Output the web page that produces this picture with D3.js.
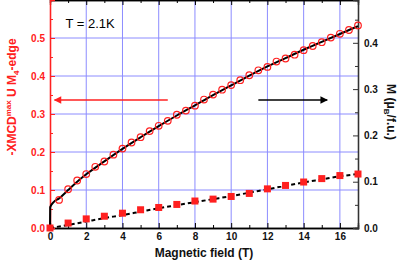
<!DOCTYPE html>
<html>
<head>
<meta charset="utf-8">
<script src="https://cdn.jsdelivr.net/npm/d3@7"></script>
<style>
  body { margin: 0; background: #fff; }
  svg { font-family: "Liberation Sans", Arial, sans-serif; }
  .tick text { font-weight: bold; font-size: 10px; }
</style>
</head>
<body>
<svg width="399" height="264"></svg>
<script>
const svg = d3.select("svg");

// open circles (XMCD, left axis)
const circleField = [0.5, 1, 1.5, 2, 2.5, 3, 3.5, 4, 4.5, 5, 5.5, 6, 6.5, 7, 7.5, 8, 8.5,
  9, 9.5, 10, 10.5, 11, 11.5, 12, 12.5, 13, 13.5, 14, 14.5, 15, 15.5, 16, 16.5, 17];
const circleValues = [0.074, 0.102, 0.125, 0.142, 0.161, 0.175, 0.193, 0.209, 0.225, 0.239,
  0.255, 0.269, 0.282, 0.298, 0.309, 0.322, 0.338, 0.351, 0.364, 0.376, 0.389, 0.402, 0.415,
  0.424, 0.438, 0.446, 0.456, 0.468, 0.479, 0.489, 0.501, 0.511, 0.521, 0.533];

// filled squares (left axis)
const squareField = [0, 1, 2, 3, 4, 5, 6, 7, 8, 9, 10, 11, 12, 13, 14, 15, 16, 17];
const squareValues = [0, 0.013, 0.024, 0.031, 0.039, 0.048, 0.054, 0.062, 0.071, 0.076,
  0.083, 0.091, 0.103, 0.112, 0.121, 0.130, 0.138, 0.142];

// dashed line (left axis)
const dashField = [0, 1, 2, 3, 4, 5, 6, 7, 8, 9, 10, 11, 12, 13, 14, 15, 16, 17];
const dashValues = [0, 0.008, 0.017, 0.026, 0.034, 0.043, 0.052, 0.060, 0.068, 0.076,
  0.084, 0.093, 0.102, 0.111, 0.120, 0.128, 0.136, 0.142];

// magnetization curve (right axis)
const mField = [0, 0.01, 0.2, 0.5, 1, 1.5, 2, 3, 4, 5, 6, 7, 8, 9, 10, 11, 12, 13, 14, 15, 16, 17];
const mValues = [0, 0.045, 0.056, 0.064, 0.082, 0.100, 0.116, 0.144, 0.171, 0.196, 0.220,
  0.243, 0.265, 0.287, 0.308, 0.329, 0.349, 0.367, 0.385, 0.402, 0.419, 0.436];

const xTicks = [0, 2, 4, 6, 8, 10, 12, 14, 16];
const leftTicks = [0, 0.1, 0.2, 0.3, 0.4, 0.5];
const rightTicks = [0, 0.1, 0.2, 0.3, 0.4];

const margin = {left: 50, top: 0, right: 41, bottom: 36};
const w = 399 - margin.left - margin.right;
const h = 264 - margin.top - margin.bottom;

const x = d3.scaleLinear().domain([0, 17]).range([0, w]);
const yL = d3.scaleLinear().domain([0, 0.6]).range([h, 0]);
const yR = d3.scaleLinear().domain([0, 0.4925]).range([h, 0]);

const red = "#ff2020";
const grid = "#8c8cff";

svg.append("defs").selectAll("marker")
  .data([{id: "headRed", c: red}, {id: "headBlack", c: "#000"}])
  .enter().append("marker")
  .attr("id", d => d.id)
  .attr("viewBox", "0 0 10 10")
  .attr("refX", 9).attr("refY", 5)
  .attr("markerWidth", 6).attr("markerHeight", 5)
  .attr("markerUnits", "strokeWidth")
  .attr("orient", "auto")
  .append("path")
  .attr("d", "M0,0L10,5L0,10z")
  .attr("fill", d => d.c);

const g = svg.append("g").attr("transform", `translate(${margin.left},${margin.top})`);

// grid
g.append("g").selectAll("line")
  .data(xTicks.filter(d => d > 0))
  .enter().append("line")
  .attr("x1", d => x(d)).attr("x2", d => x(d))
  .attr("y1", 0).attr("y2", h)
  .attr("stroke", grid).attr("stroke-width", 1);
g.append("g").selectAll("line")
  .data(leftTicks.filter(d => d > 0))
  .enter().append("line")
  .attr("x1", 0).attr("x2", w)
  .attr("y1", d => yL(d)).attr("y2", d => yL(d))
  .attr("stroke", grid).attr("stroke-width", 1);

// axes
const minorX = d3.axisBottom(x).tickValues(d3.range(1, 17, 2)).tickSize(-3).tickFormat("");
g.append("g").attr("transform", `translate(0,${h})`).call(minorX);
g.append("g").call(d3.axisTop(x).tickValues(d3.range(1, 17, 2)).tickSize(-3).tickFormat(""));
g.append("g").call(d3.axisTop(x).tickValues(xTicks).tickSize(-5).tickFormat(""));
const bottom = g.append("g").attr("transform", `translate(0,${h})`)
  .call(d3.axisBottom(x).tickValues(xTicks).tickSize(-5).tickPadding(5).tickFormat(d3.format("d")));

const left = g.append("g")
  .call(d3.axisLeft(yL).tickValues(leftTicks).tickSize(-5).tickPadding(5).tickFormat(d3.format(".1f")));
g.append("g").call(d3.axisLeft(yL).tickValues([0.05, 0.15, 0.25, 0.35, 0.45, 0.55]).tickSize(-3).tickFormat(""))
  .attr("class", "minorL");
const right = g.append("g").attr("transform", `translate(${w},0)`)
  .call(d3.axisRight(yR).tickValues(rightTicks).tickSize(-5).tickPadding(6).tickFormat(d3.format(".1f")));
g.append("g").attr("transform", `translate(${w},0)`).attr("class", "minorR")
  .call(d3.axisRight(yR).tickValues([0.05, 0.15, 0.25, 0.35, 0.45]).tickSize(-3).tickFormat(""));

g.selectAll(".domain").attr("stroke", "#000").attr("stroke-width", 1.3);
left.selectAll("line, path").attr("stroke", red);
left.selectAll("text").attr("fill", red);
g.selectAll(".minorL line, .minorL path").attr("stroke", red);
right.selectAll("line, path").attr("stroke", "#333");
g.selectAll(".minorR line, .minorR path").attr("stroke", "#333");
right.selectAll("text").attr("fill", "#111");
bottom.selectAll("text").attr("fill", "#111");

// curves
const mLine = d3.line().x((d, i) => x(mField[i])).y(d => yR(d)).curve(d3.curveMonotoneX);
g.append("path").datum(mValues)
  .attr("d", mLine).attr("fill", "none").attr("stroke", "#000").attr("stroke-width", 2);

const dLine = d3.line().x((d, i) => x(dashField[i])).y(d => yL(d)).curve(d3.curveMonotoneX);
g.append("path").datum(dashValues)
  .attr("d", dLine).attr("fill", "none").attr("stroke", "#000")
  .attr("stroke-width", 2).attr("stroke-dasharray", "4,3");

g.append("g").selectAll("circle")
  .data(circleValues)
  .enter().append("circle")
  .attr("cx", (d, i) => x(circleField[i]))
  .attr("cy", d => yL(d))
  .attr("r", 3.3)
  .attr("fill", "none")
  .attr("stroke", red).attr("stroke-width", 1.2);

g.append("g").selectAll("rect")
  .data(squareValues)
  .enter().append("rect")
  .attr("x", (d, i) => x(squareField[i]) - 3.5)
  .attr("y", d => yL(d) - 3.5)
  .attr("width", 7).attr("height", 7)
  .attr("fill", red);

// arrows
g.append("line").attr("x1", x(6.5)).attr("x2", x(0.25)).attr("y1", 100).attr("y2", 100)
  .attr("stroke", red).attr("stroke-width", 1.5).attr("marker-end", "url(#headRed)");
g.append("line").attr("x1", x(11.5)).attr("x2", x(15.3)).attr("y1", 100).attr("y2", 100)
  .attr("stroke", "#000").attr("stroke-width", 1.5).attr("marker-end", "url(#headBlack)");

// texts
g.append("text").attr("x", x(0.85)).attr("y", 28)
  .attr("font-size", 13).text("T = 2.1K");

const lt = svg.append("text")
  .attr("transform", "translate(16,97) rotate(-90)")
  .attr("text-anchor", "middle")
  .attr("font-size", 12).attr("font-weight", "bold").attr("fill", red);
lt.append("tspan").text("-XMCD");
lt.append("tspan").attr("font-size", 8).attr("dy", -5).text("max");
lt.append("tspan").attr("dy", 5).text(" U M");
lt.append("tspan").attr("font-size", 8).attr("dy", 3).text("4");
lt.append("tspan").attr("dy", -3).text("-edge");

const rt = svg.append("text")
  .attr("transform", "translate(387,112) rotate(90)")
  .attr("text-anchor", "middle")
  .attr("font-size", 12).attr("font-weight", "bold").attr("fill", "#111");
rt.append("tspan").text("M (\u03bc");
rt.append("tspan").attr("font-size", 8).attr("dy", 3).text("B");
rt.append("tspan").attr("dy", -3).text("/f.u.)");

svg.append("text").attr("x", 204).attr("y", 257)
  .attr("text-anchor", "middle")
  .attr("font-size", 12).attr("font-weight", "bold").attr("fill", "#111")
  .text("Magnetic field (T)");
</script>
</body>
</html>
